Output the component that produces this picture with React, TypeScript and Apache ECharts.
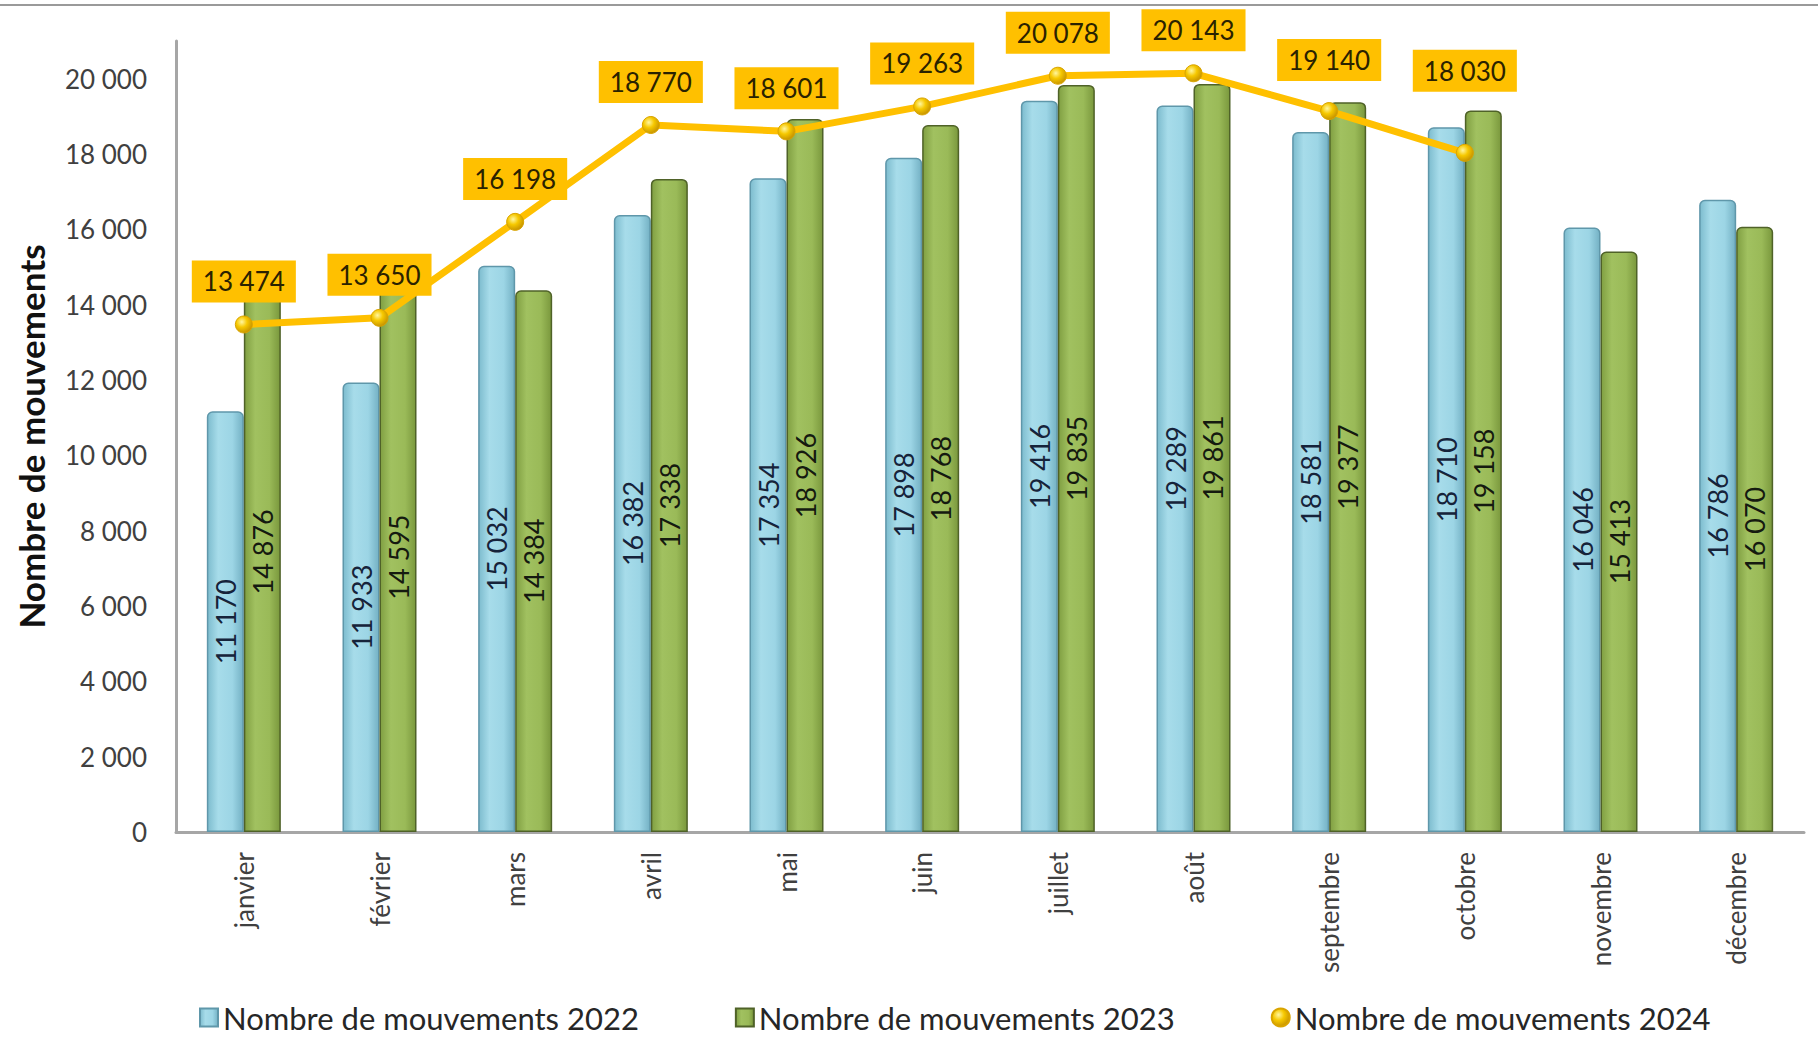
import React, { useEffect, useRef } from "react";
import * as echarts from "echarts";

const categories = [
  "janvier", "février", "mars", "avril", "mai", "juin",
  "juillet", "août", "septembre", "octobre", "novembre", "décembre",
];
const values2022 = [11170, 11933, 15032, 16382, 17354, 17898, 19416, 19289, 18581, 18710, 16046, 16786];
const values2023 = [14876, 14595, 14384, 17338, 18926, 18768, 19835, 19861, 19377, 19158, 15413, 16070];
const values2024: (number | null)[] = [13474, 13650, 16198, 18770, 18601, 19263, 20078, 20143, 19140, 18030, null, null];
const seriesNames = ["Nombre de mouvements 2022", "Nombre de mouvements 2023", "Nombre de mouvements 2024"];
const yAxisTitle = "Nombre de mouvements";

const FONT = "Lato, 'Noto Sans', sans-serif";

const fmt = (n: number) => String(Math.round(n)).replace(/\B(?=(\d{3})+(?!\d))/g, " ");

const blueGrad = new echarts.graphic.LinearGradient(0, 0, 1, 0, [
  { offset: 0, color: "#7dbcce" },
  { offset: 0.3, color: "#a7dcea" },
  { offset: 0.7, color: "#9cd5e5" },
  { offset: 1, color: "#74b1c4" },
]);
const greenGrad = new echarts.graphic.LinearGradient(0, 0, 1, 0, [
  { offset: 0, color: "#809f42" },
  { offset: 0.3, color: "#a1c160" },
  { offset: 0.7, color: "#9aba58" },
  { offset: 1, color: "#7a983d" },
]);
const markerGrad = new echarts.graphic.RadialGradient(0.38, 0.35, 0.7, [
  { offset: 0, color: "#fff6a0" },
  { offset: 0.45, color: "#f6c800" },
  { offset: 1, color: "#c38f00" },
]);

export default function App() {
  const ref = useRef<HTMLDivElement>(null);
  useEffect(() => {
    if (!ref.current) return;
    const chart = echarts.init(ref.current, undefined, { renderer: "svg" });
    const lineData = values2024.map((v, i) => {
      if (v === null) return null;
      let extra = 0;
      if (categories[i] === "septembre") extra = -8;
      if (categories[i] === "octobre") extra = -39;
      return extra ? { value: v, label: { offset: [0, extra] } } : v;
    });
    chart.setOption({
      animation: false,
      textStyle: { fontFamily: FONT },
      graphic: [
        {
          type: "line",
          shape: { x1: 0, y1: 5, x2: 1818, y2: 5 },
          style: { stroke: "#9a9a9a", lineWidth: 2 },
        },
      ],
      legend: {
        left: 194,
        top: 997,
        itemGap: 96,
        itemWidth: 18,
        itemHeight: 18,
        textStyle: { fontSize: 31, color: "#262626", fontFamily: FONT },
        data: [
          { name: seriesNames[0], icon: "rect" },
          { name: seriesNames[1], icon: "rect" },
          { name: seriesNames[2], icon: "circle" },
        ],
      },
      grid: { left: 176, right: 14, top: 41, bottom: 207, containLabel: false, outerBoundsMode: "none" },
      xAxis: {
        type: "category",
        data: categories,
        axisLine: { show: true, lineStyle: { color: "#a6a6a6", width: 3 } },
        axisTick: { show: false },
        axisLabel: {
          rotate: 90,
          margin: 20,
          fontSize: 26,
          color: "#404040",
          fontFamily: FONT,
          interval: 0,
        },
      },
      yAxis: {
        type: "value",
        min: 0,
        max: 21000,
        interval: 2000,
        name: yAxisTitle,
        nameLocation: "middle",
        nameGap: 128,
        nameRotate: 90,
        nameTextStyle: { fontSize: 35, fontWeight: "bold", color: "#111", fontFamily: FONT },
        axisLine: { show: true, lineStyle: { color: "#a6a6a6", width: 3 } },
        axisTick: { show: false },
        splitLine: { show: false },
        axisLabel: {
          fontSize: 26,
          color: "#404040",
          margin: 29,
          showMaxLabel: false,
          fontFamily: FONT,
          formatter: (v: number) => (v % 2000 === 0 ? fmt(v) : ""),
        },
      },
      series: [
        {
          name: seriesNames[0],
          type: "bar",
          data: values2022,
          barWidth: 37,
          barGap: "0%",
          itemStyle: { color: blueGrad, borderColor: "#5f97aa", borderWidth: 1.5, borderRadius: [5, 5, 0, 0] },
          label: {
            show: true,
            position: "inside",
            rotate: 90,
            fontSize: 27,
            color: "#16233a",
            fontFamily: FONT,
            formatter: (p: any) => fmt(p.value),
          },
        },
        {
          name: seriesNames[1],
          type: "bar",
          data: values2023,
          barWidth: 37,
          barGap: "0%",
          itemStyle: { color: greenGrad, borderColor: "#4f6228", borderWidth: 1.5, borderRadius: [5, 5, 0, 0] },
          label: {
            show: true,
            position: "inside",
            rotate: 90,
            fontSize: 27,
            color: "#151a10",
            fontFamily: FONT,
            formatter: (p: any) => fmt(p.value),
          },
        },
        {
          name: seriesNames[2],
          type: "line",
          data: lineData,
          z: 5,
          symbol: "circle",
          symbolSize: 17,
          lineStyle: { color: "#FFC000", width: 7 },
          itemStyle: { color: markerGrad, borderColor: "#d9a400", borderWidth: 1 },
          label: {
            show: true,
            position: "top",
            distance: 13,
            fontSize: 26,
            lineHeight: 30,
            color: "#2a2200",
            backgroundColor: "#FFC000",
            padding: [6, 11],
            fontFamily: FONT,
            formatter: (p: any) => fmt(p.value),
          },
        },
      ],
    });
    return () => chart.dispose();
  }, []);
  return (
    <div
      ref={ref}
      style={{ position: "fixed", left: 0, top: 0, width: 1818, height: 1039, background: "#fff" }}
    />
  );
}
